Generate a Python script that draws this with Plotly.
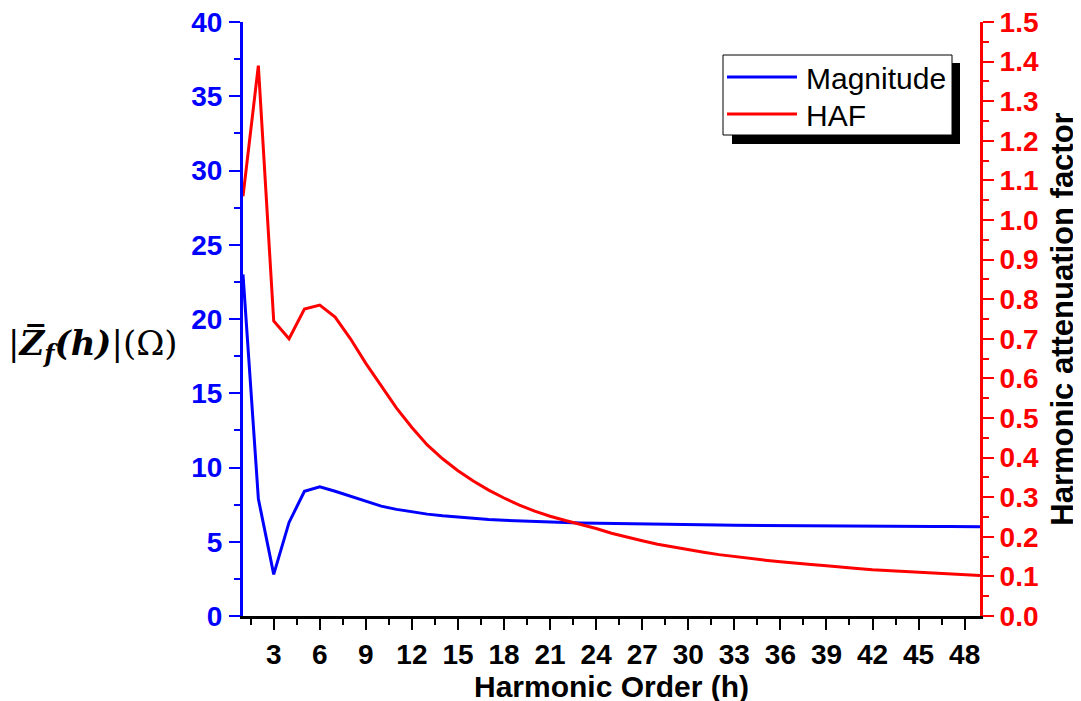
import plotly.graph_objects as go

harmonic = list(range(1, 50))
magnitude = [23.0, 7.9, 2.8, 6.3, 8.4, 8.7, 8.4, 8.05, 7.7, 7.4,
             7.18, 7.0, 6.86, 6.75, 6.65, 6.57, 6.5, 6.44, 6.39, 6.35,
             6.32, 6.29, 6.26, 6.24, 6.22, 6.2, 6.18, 6.17, 6.15, 6.14,
             6.13, 6.12, 6.11, 6.10, 6.09, 6.08, 6.07, 6.07, 6.06, 6.05,
             6.05, 6.04, 6.04, 6.03, 6.03, 6.02, 6.02, 6.01, 6.01]
haf = [1.06, 1.39, 0.745, 0.70, 0.775, 0.785, 0.755, 0.700, 0.638, 0.580,
       0.525, 0.476, 0.432, 0.397, 0.367, 0.341, 0.318, 0.298, 0.280, 0.265,
       0.252, 0.241, 0.231, 0.221, 0.209, 0.199, 0.190, 0.181, 0.174, 0.167,
       0.161, 0.155, 0.150, 0.145, 0.141, 0.137, 0.133, 0.130, 0.127, 0.123,
       0.120, 0.117, 0.115, 0.112, 0.110, 0.108, 0.106, 0.104, 0.102]
series_names = ["Magnitude", "HAF"]
series_colors = ["#0000ff", "#ff0000"]
x_ticks = list(range(3, 49, 3))
left_ticks = list(range(0, 41, 5))
right_ticks = [i / 10 for i in range(0, 16)]

FONT = "Arial, Liberation Sans, sans-serif"
TICKSIZE = 28

fig = go.Figure()
fig.add_trace(go.Scatter(x=harmonic, y=magnitude, mode="lines", name=series_names[0],
                         line=dict(color=series_colors[0], width=3), yaxis="y"))
fig.add_trace(go.Scatter(x=harmonic, y=haf, mode="lines", name=series_names[1],
                         line=dict(color=series_colors[1], width=3), yaxis="y2"))

# page offset (browser body margin)
OFF = 8
W, H = 1081, 701
L, R, T, B = 243 - OFF, 980 - OFF, 22 - OFF, 616 - OFF
pw, ph = R - L, B - T


def px(xp):
    return (xp - OFF - L) / pw


def py(yp):
    return (B - (yp - OFF)) / ph


fig.update_layout(
    width=W, height=H,
    margin=dict(l=L, r=W - R, t=T, b=H - B),
    paper_bgcolor="white", plot_bgcolor="white",
    font=dict(family=FONT, color="black"),
    showlegend=False,
    xaxis=dict(range=[1, 49], tickvals=x_ticks, ticktext=[f"<b>{v}</b>" for v in x_ticks],
               showgrid=False, zeroline=False, automargin=False,
               ticklabeloverflow="allow",
               showline=True, linecolor="black", linewidth=3,
               ticks="outside", ticklen=11, tickwidth=2, tickcolor="black",
               tickfont=dict(size=TICKSIZE, family=FONT, color="black"),
               minor=dict(tickmode="linear", tick0=0, dtick=1.5, ticks="outside",
                          ticklen=6, tickwidth=2, tickcolor="black"),
               title=dict(text="<b>Harmonic Order (h)</b>", standoff=0,
                          font=dict(size=30, family=FONT, color="black"))),
    yaxis=dict(range=[0, 40], tickvals=left_ticks, ticktext=[f"<b>{v}</b>" for v in left_ticks],
               showgrid=False, zeroline=False, automargin=False,
               ticklabeloverflow="allow",
               showline=True, linecolor="#0000ff", linewidth=3,
               ticks="outside", ticklen=11, tickwidth=2, tickcolor="#0000ff",
               ticklabelstandoff=1,
               tickfont=dict(size=TICKSIZE, family=FONT, color="#0000ff"),
               minor=dict(tickmode="linear", tick0=0, dtick=2.5, ticks="outside",
                          ticklen=6, tickwidth=2, tickcolor="#0000ff")),
    yaxis2=dict(range=[0, 1.5], tickvals=right_ticks,
                ticktext=[f"<b>{v:.1f}</b>" for v in right_ticks],
                overlaying="y", side="right", showgrid=False, zeroline=False,
                automargin=False, ticklabeloverflow="allow",
                showline=True, linecolor="#ff0000", linewidth=3,
                ticks="outside", ticklen=11, tickwidth=2, tickcolor="#ff0000",
                tickfont=dict(size=TICKSIZE, family=FONT, color="#ff0000"),
                minor=dict(tickmode="linear", tick0=0, dtick=0.05, ticks="outside",
                           ticklen=6, tickwidth=2, tickcolor="#ff0000"),
                title=dict(text="<b>Harmonic attenuation factor</b>", standoff=14,
                           font=dict(size=31, family=FONT, color="black"))),
)

# hand-drawn legend with drop shadow
fig.add_shape(type="rect", xref="paper", yref="paper",
              x0=px(732), x1=px(960), y0=py(144), y1=py(63),
              fillcolor="black", line=dict(width=0), layer="above")
fig.add_shape(type="rect", xref="paper", yref="paper",
              x0=px(723), x1=px(952), y0=py(135), y1=py(55),
              fillcolor="white", line=dict(color="black", width=1), layer="above")
for i, (name, col) in enumerate(zip(series_names, series_colors)):
    yy = 77 + i * 37
    fig.add_shape(type="line", xref="paper", yref="paper",
                  x0=px(727), x1=px(797), y0=py(yy), y1=py(yy),
                  line=dict(color=col, width=3), layer="above")
    fig.add_annotation(xref="paper", yref="paper", x=px(804), y=py(yy + 1),
                       xanchor="left", yanchor="middle", showarrow=False,
                       text=name, font=dict(size=30, family=FONT, color="black"))

# left axis title (horizontal)
fig.add_annotation(xref="paper", yref="paper", x=px(6), y=py(345),
                   xanchor="left", yanchor="middle", showarrow=False,
                   text="|<b><i>Z\u0305</i></b><sub><b><i>f</i></b></sub><b><i>(h)</i></b>|(\u03a9)",
                   font=dict(size=34, family="DejaVu Serif, Liberation Serif, serif", color="black"))

fig.write_html("out.html")
